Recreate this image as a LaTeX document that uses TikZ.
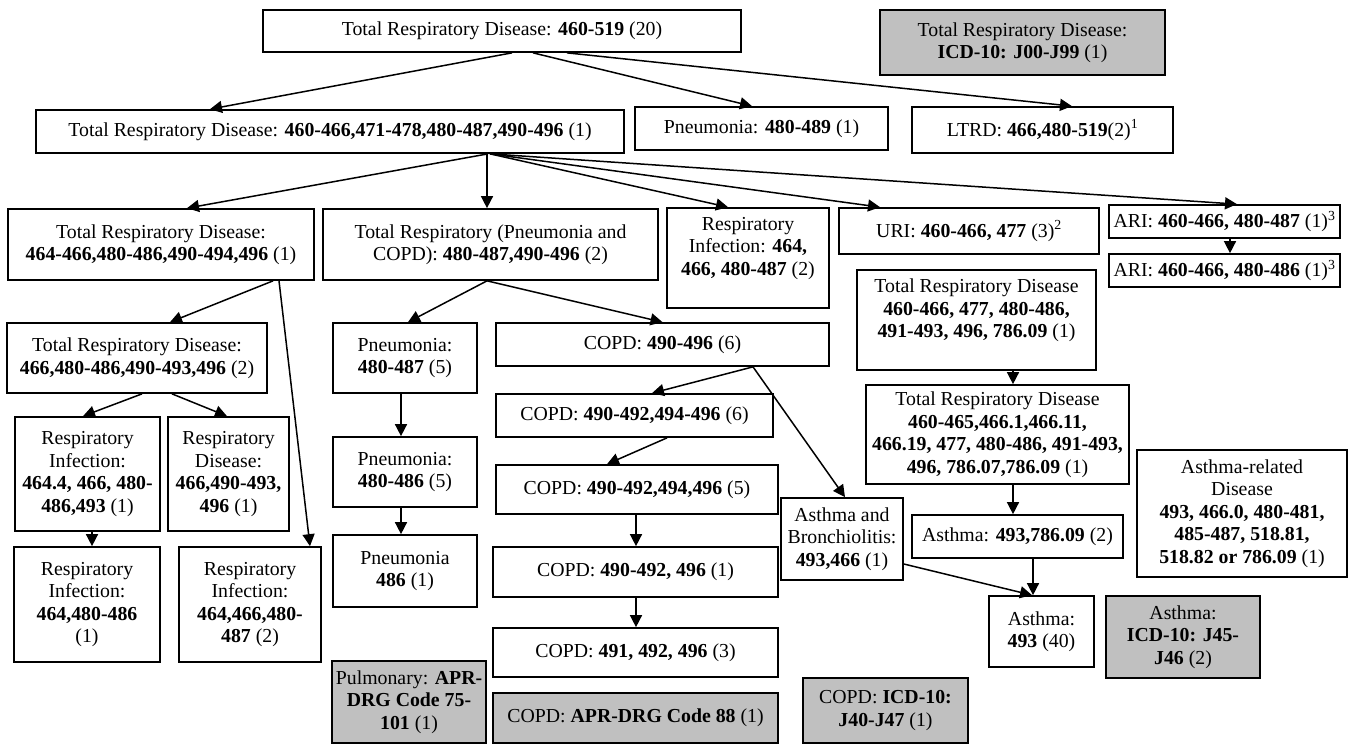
\documentclass[tikz,border=0pt]{standalone}
\usepackage{fontspec}
\setmainfont{Liberation Serif}
\usetikzlibrary{arrows.meta}
\definecolor{gfill}{RGB}{192,192,192}
\tikzset{
  bx/.style={draw=black, line width=1.7pt, fill=white, inner sep=0pt, align=center,
             font=\fontsize{19.8}{22.5}\selectfont},
  gbx/.style={bx, fill=gfill},
  arw/.style={line width=1.5pt, -{Triangle[length=12pt,width=12pt]}}
}
\newcommand{\Bx}[7][]{\node[bx,#1,minimum width={(#5-#3)*1pt},minimum height={(#6-#4)*1pt}] (#2) at ({(#3+#5)/2},{(#4+#6)/2}) {#7};}
\begin{document}
\begin{tikzpicture}[x=1pt,y=-1pt]
\fill[white] (0,0) rectangle (1351,745);
\useasboundingbox (0,0) rectangle (1351,745);

\Bx{top}{263}{10}{741}{52}{Total Respiratory Disease: \textbf{460-519} (20)}
\Bx[gbx]{jzz}{880}{10}{1165}{75}{Total Respiratory Disease:\\ \textbf{ICD-10: J00-J99} (1)}
\Bx{lone}{36}{110}{624}{153}{Total Respiratory Disease: \textbf{460-466,471-478,480-487,490-496} (1)}
\Bx{pnA}{635}{107}{888}{150}{Pneumonia: \textbf{480-489} (1)}
\Bx{ltrd}{912}{107}{1173}{153}{LTRD: \textbf{466,480-519}(2)\textsuperscript{1}}

\Bx{trdA}{8}{209}{314}{280}{Total Respiratory Disease:\\ \textbf{464-466,480-486,490-494,496} (1)}
\Bx{tpc}{323}{209}{658}{280}{Total Respiratory (Pneumonia and\\ COPD): \textbf{480-487,490-496} (2)}
\Bx{riA}{667}{208}{829}{308}{Respiratory\\ Infection: \textbf{464,}\\ \textbf{466, 480-487} (2)\\[-6pt]\strut}
\Bx{uri}{839}{208}{1099}{254}{URI: \textbf{460-466, 477} (3)\textsuperscript{2}}
\Bx{ariA}{1109}{205}{1340}{238}{ARI: \textbf{460-466, 480-487} (1)\textsuperscript{3}}
\Bx{ariB}{1109}{254}{1340}{287}{ARI: \textbf{460-466, 480-486} (1)\textsuperscript{3}}

\Bx{trdB}{7}{323}{267}{393}{Total Respiratory Disease:\\ \textbf{466,480-486,490-493,496} (2)}
\Bx{pnB}{333}{323}{477}{393}{Pneumonia:\\ \textbf{480-487} (5)}
\Bx{copdA}{496}{323}{829}{366}{COPD: \textbf{490-496} (6)}
\Bx{trdC}{857}{270}{1096}{370}{Total Respiratory Disease\\ \textbf{460-466, 477, 480-486,}\\ \textbf{491-493, 496, 786.09} (1)\\[-6pt]\strut}
\Bx{trdD}{866}{385}{1129}{484}{Total Respiratory Disease\\ \textbf{460-465,466.1,466.11,}\\ \textbf{466.19, 477, 480-486, 491-493,}\\ \textbf{496, 786.07,786.09} (1)}
\Bx{asrel}{1137}{450}{1347}{577}{Asthma-related\\ Disease\\ \textbf{493, 466.0, 480-481,}\\ \textbf{485-487, 518.81,}\\ \textbf{518.82 or 786.09} (1)}

\Bx{riB}{15}{417}{160}{531}{Respiratory\\ Infection:\\ \textbf{464.4, 466, 480-}\\ \textbf{486,493} (1)}
\Bx{rdA}{168}{417}{289}{531}{Respiratory\\ Disease:\\ \textbf{466,490-493,}\\ \textbf{496} (1)}
\Bx{pnC}{333}{437}{477}{507}{Pneumonia:\\ \textbf{480-486} (5)}
\Bx{pnD}{333}{535}{477}{607}{Pneumonia\\ \textbf{486} (1)}
\Bx{copdB}{496}{394}{773}{437}{COPD: \textbf{490-492,494-496} (6)}
\Bx{copdC}{496}{465}{778}{514}{COPD: \textbf{490-492,494,496} (5)}
\Bx{copdD}{493}{547}{778}{597}{COPD: \textbf{490-492, 496} (1)}
\Bx{copdE}{493}{628}{778}{677}{COPD: \textbf{491, 492, 496} (3)}
\Bx[gbx]{copdF}{493}{693}{778}{743}{COPD: \textbf{APR-DRG Code 88} (1)}
\Bx[gbx]{pulm}{332}{661}{486}{743}{Pulmonary: \textbf{APR-}\\ \textbf{DRG Code 75-}\\ \textbf{101} (1)}
\Bx{asbr}{781}{498}{903}{580}{Asthma and\\ Bronchiolitis:\\ \textbf{493,466} (1)}
\Bx[gbx]{copdG}{803}{678}{968}{743}{COPD: \textbf{ICD-10:}\\ \textbf{J40-J47} (1)}
\Bx{asA}{912}{515}{1123}{558}{Asthma: \textbf{493,786.09} (2)}
\Bx{asB}{989}{596}{1094}{667}{Asthma:\\ \textbf{493} (40)}
\Bx[gbx]{asC}{1106}{596}{1260}{678}{Asthma:\\ \textbf{ICD-10: J45-}\\ \textbf{J46} (2)}
\Bx{riC}{14}{547}{160}{662}{Respiratory\\ Infection:\\ \textbf{464,480-486}\\ (1)}
\Bx{riD}{179}{547}{321}{662}{Respiratory\\ Infection:\\ \textbf{464,466,480-}\\ \textbf{487} (2)}

% connectors
\draw[arw] ([xshift=10pt]top.south) -- ([xshift=-120pt]lone.north);
\draw[arw] ([xshift=31pt]top.south) -- ([xshift=-9.5pt]pnA.north);
\draw[arw] ([xshift=65pt]top.south) -- ([xshift=29.5pt]ltrd.north);

\draw[arw] ([xshift=158pt]lone.south) -- ([xshift=26pt]trdA.north);
\draw[arw] ([xshift=157pt]lone.south) -- ([xshift=-3.5pt]tpc.north);
\draw[arw] ([xshift=160pt]lone.south) -- ([xshift=-20pt]riA.north);
\draw[arw] ([xshift=160pt]lone.south) -- ([xshift=-89pt]uri.north);
\draw[arw] ([xshift=160pt]lone.south) -- ([xshift=12.5pt]ariA.north);

\draw[arw] ([xshift=112pt]trdA.south) -- ([xshift=33pt]trdB.north);
\draw[arw] ([xshift=118pt]trdA.south) -- ([xshift=60pt]riD.north);
\draw[arw] ([xshift=5pt]trdB.south) -- ([xshift=-4.5pt]riB.north);
\draw[arw] ([xshift=35pt]trdB.south) -- ([xshift=-1.5pt]rdA.north);
\draw[arw] ([xshift=4.5pt]riB.south) -- ([xshift=5pt]riC.north);

\draw[arw] ([xshift=-3.5pt]tpc.south) -- ([xshift=3pt]pnB.north);
\draw[arw] ([xshift=-3.5pt]tpc.south) -- ([xshift=0pt]copdA.north);
\draw[arw] ([xshift=-4pt]pnB.south) -- ([xshift=-4pt]pnC.north);
\draw[arw] ([xshift=-4pt]pnC.south) -- ([xshift=-4pt]pnD.north);

\draw[arw] ([xshift=90.5pt]copdA.south) -- ([xshift=17.5pt]copdB.north);
\draw[arw] ([xshift=90.5pt]copdA.south) -- ([xshift=3pt]asbr.north);
\draw[arw] ([xshift=32.5pt]copdB.south) -- ([xshift=-30pt]copdC.north);
\draw[arw] ([xshift=-1pt]copdC.south) -- ([xshift=0.5pt]copdD.north);
\draw[arw] ([xshift=0.5pt]copdD.south) -- ([xshift=0.5pt]copdE.north);

\draw[arw] ([xshift=5.5pt]ariA.south) -- ([xshift=5.5pt]ariB.north);
\draw[arw] ([xshift=36.5pt]trdC.south) -- ([xshift=15.5pt]trdD.north);
\draw[arw] ([xshift=15.5pt]trdD.south) -- ([xshift=-4.5pt]asA.north);
\draw[arw] ([xshift=15.5pt]asA.south) -- ([xshift=-8.5pt]asB.north);
\draw[arw] ([yshift=-25pt]asbr.east) -- ([xshift=-9.5pt]asB.north);
\end{tikzpicture}
\end{document}
